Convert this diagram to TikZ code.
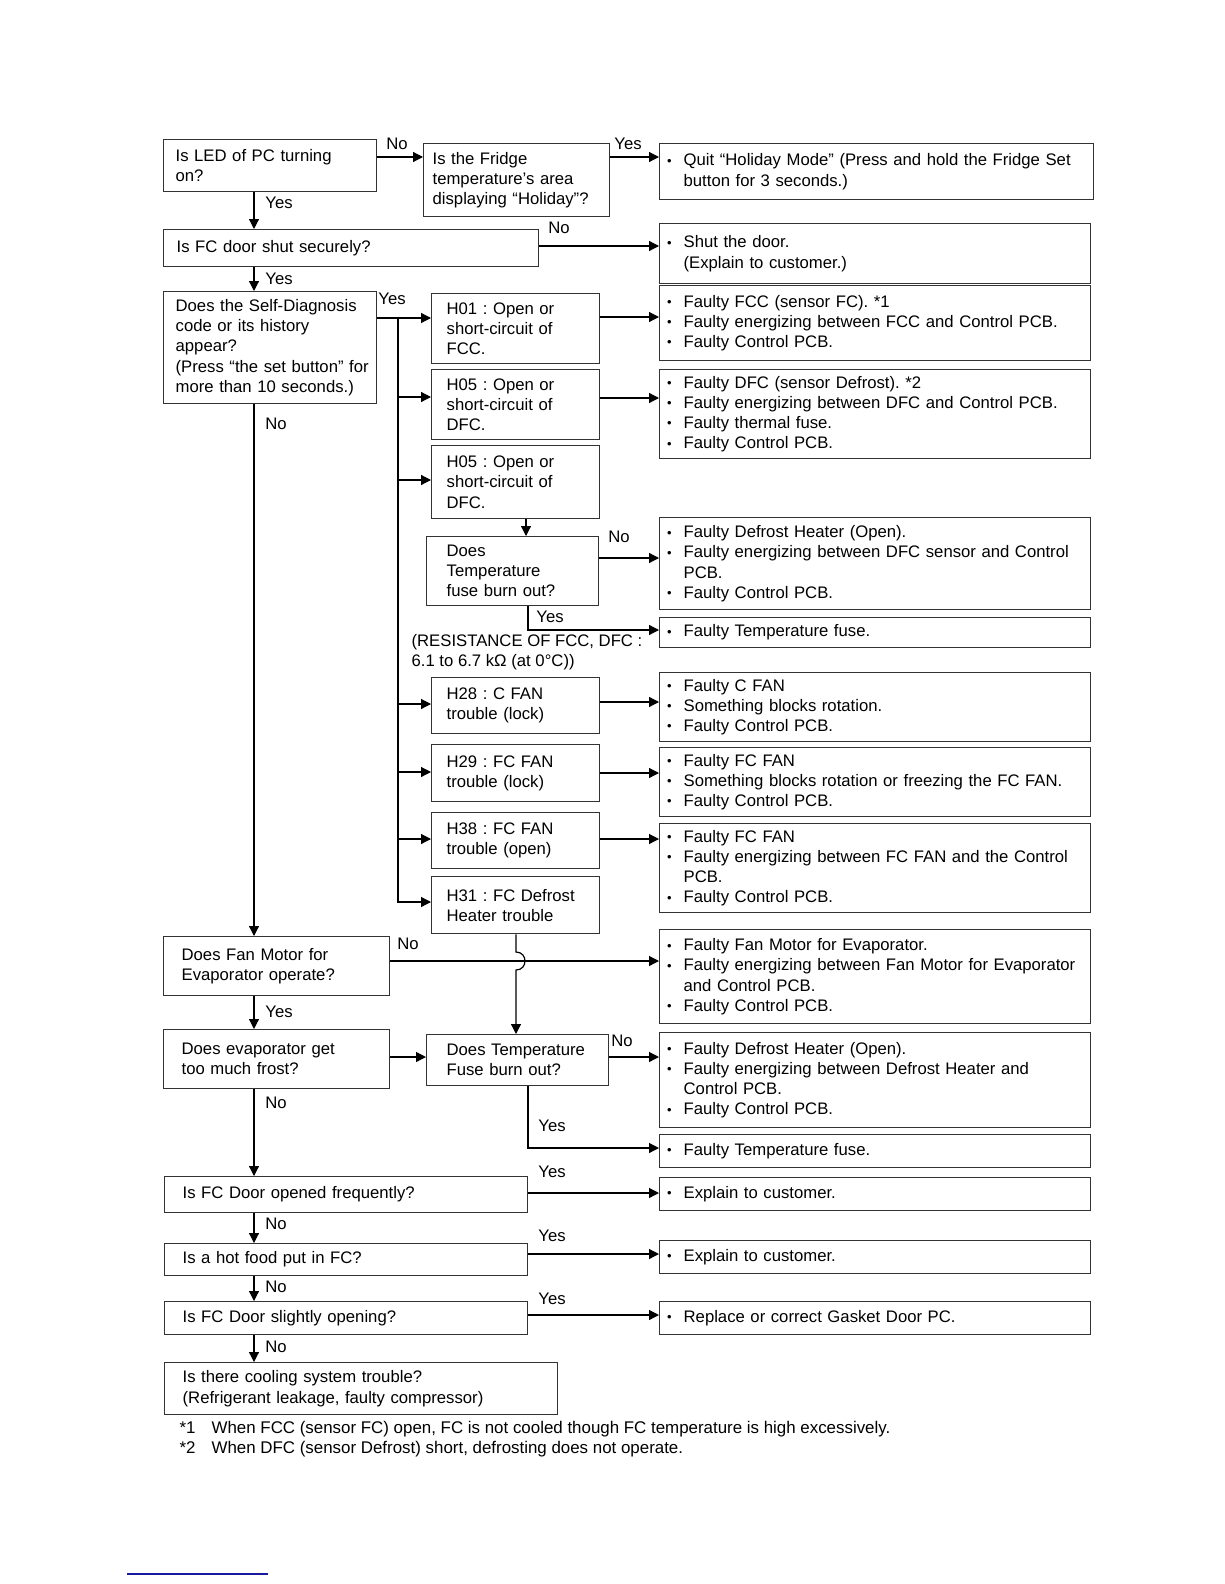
\documentclass[tikz,border=0pt]{standalone}
\usepackage{fontspec}
\setmainfont{Liberation Sans}
\usetikzlibrary{arrows.meta}
\definecolor{linkblue}{RGB}{25,25,160}
\frenchspacing
\newcommand{\bitem}{\makebox[17pt][l]{\hspace{0.5pt}\raisebox{0.6pt}{\fontsize{13}{13}\selectfont\textbullet}}}
\newcommand{\bcont}{\hspace*{17pt}}
\tikzset{
  every picture/.style={line width=1.2pt},
  box/.style={draw=black!80, line width=1.3pt, anchor=north west, inner ysep=0pt,
    execute at begin node={\raggedright\rightskip=-40pt plus 1fil\relax}},
  ans/.style={box, inner xsep=7pt, text width=417pt},
  hbox/.style={box, inner xsep=15pt, text width=138pt},
  arr/.style={-{Triangle[length=10pt,width=10pt]}},
  lbl/.style={inner sep=0pt}
}

\begin{document}
\begin{tikzpicture}[x=1pt, y=-1pt, font=\fontsize{16.7}{20.1}\selectfont]
    \useasboundingbox (0,0) rectangle (1224,1584);
    \coordinate (trunk) at (254,0);
    \coordinate (bus) at (398,0);

    % questions, left column
    \node[box, inner xsep=12pt, text width=189pt, minimum height=52pt] (led) at (163,139) {Is LED of PC turning\\on?};
    \node[box, inner xsep=9pt, text width=168pt, minimum height=73pt] (fridge) at (423,143) {Is the Fridge\\temperature’s area\\displaying “Holiday”?};
    \node[box, inner xsep=13pt, text width=349pt, minimum height=37pt] (door) at (163,229) {Is FC door shut securely?};
    \node[box, inner xsep=12pt, text width=189pt, minimum height=112pt] (diag) at (163,291) {Does the Self-Diagnosis\\code or its history\\appear?\\(Press “the set button” for\\more than 10 seconds.)};
    \node[box, inner xsep=18pt, text width=190pt, minimum height=59pt] (fanmotor) at (163,936) {Does Fan Motor for\\Evaporator operate?};
    \node[box, inner xsep=18pt, text width=190pt, minimum height=59pt] (evap) at (163,1029) {Does evaporator get\\too much frost?};
    \node[box, inner xsep=18pt, text width=327pt, minimum height=36pt] (often) at (164,1176) {Is FC Door opened frequently?};
    \node[box, inner xsep=18pt, text width=327pt, minimum height=32pt] (hotfood) at (164,1243) {Is a hot food put in FC?};
    \node[box, inner xsep=18pt, text width=327pt, minimum height=33pt] (slight) at (164,1301) {Is FC Door slightly opening?};
    \node[box, inner xsep=18pt, text width=357pt, minimum height=52pt] (cooling) at (164,1362) {Is there cooling system trouble?\\(Refrigerant leakage, faulty compressor)};

    % error codes
    \node[hbox, minimum height=70pt] (h01) at (431,293) {H01 : Open or\\short-circuit of\\FCC.};
    \node[hbox, minimum height=70pt] (h05a) at (431,369) {H05 : Open or\\short-circuit of\\DFC.};
    \node[hbox, minimum height=73pt] (h05b) at (431,445) {H05 : Open or\\short-circuit of\\DFC.};
    \node[box, inner xsep=20pt, text width=132pt, minimum height=69pt] (fuseA) at (426,536) {Does\\Temperature\\fuse burn out?};
    \node[hbox, minimum height=56pt] (h28) at (431,677) {H28 : C FAN\\trouble (lock)};
    \node[hbox, minimum height=57pt] (h29) at (431,744) {H29 : FC FAN\\trouble (lock)};
    \node[hbox, minimum height=56pt] (h38) at (431,812) {H38 : FC FAN\\trouble (open)};
    \node[hbox, minimum height=57pt] (h31) at (431,876) {H31 : FC Defrost\\Heater trouble};
    \node[box, inner xsep=20pt, text width=142pt, minimum height=51pt] (fuseB) at (426,1034) {Does Temperature\\Fuse burn out?};

    % remedies
    \node[ans, text width=420pt, minimum height=56pt] (quit) at (659,143) {\bitem Quit “Holiday Mode” (Press and hold the Fridge Set\\\bcont button for 3 seconds.)};
    \node[ans, minimum height=60pt] (shut) at (659,223) {\bitem Shut the door.\\\bcont (Explain to customer.)};
    \node[ans, minimum height=75pt] (fcc) at (659,285) {\bitem Faulty FCC (sensor FC). *1\\\bitem Faulty energizing between FCC and Control PCB.\\\bitem Faulty Control PCB.};
    \node[ans, minimum height=89pt] (dfc) at (659,369) {\bitem Faulty DFC (sensor Defrost). *2\\\bitem Faulty energizing between DFC and Control PCB.\\\bitem Faulty thermal fuse.\\\bitem Faulty Control PCB.};
    \node[ans, minimum height=92pt] (heaterA) at (659,517) {\bitem Faulty Defrost Heater (Open).\\\bitem Faulty energizing between DFC sensor and Control\\\bcont PCB.\\\bitem Faulty Control PCB.};
    \node[ans, minimum height=30pt] (tempA) at (659,617) {\bitem Faulty Temperature fuse.};
    \node[ans, minimum height=69pt] (cfan) at (659,672) {\bitem Faulty C FAN\\\bitem Something blocks rotation.\\\bitem Faulty Control PCB.};
    \node[ans, minimum height=69pt] (fcfanA) at (659,747) {\bitem Faulty FC FAN\\\bitem Something blocks rotation or freezing the FC FAN.\\\bitem Faulty Control PCB.};
    \node[ans, minimum height=89pt] (fcfanB) at (659,823) {\bitem Faulty FC FAN\\\bitem Faulty energizing between FC FAN and the Control\\\bcont PCB.\\\bitem Faulty Control PCB.};
    \node[ans, minimum height=94pt] (motorfix) at (659,929) {\bitem Faulty Fan Motor for Evaporator.\\\bitem Faulty energizing between Fan Motor for Evaporator\\\bcont and Control PCB.\\\bitem Faulty Control PCB.};
    \node[ans, minimum height=95pt] (heaterB) at (659,1032) {\bitem Faulty Defrost Heater (Open).\\\bitem Faulty energizing between Defrost Heater and\\\bcont Control PCB.\\\bitem Faulty Control PCB.};
    \node[ans, minimum height=33pt] (tempB) at (659,1134) {\bitem Faulty Temperature fuse.};
    \node[ans, minimum height=33pt] (explainA) at (659,1177) {\bitem Explain to customer.};
    \node[ans, minimum height=33pt] (explainB) at (659,1240) {\bitem Explain to customer.};
    \node[ans, minimum height=33pt] (gasket) at (659,1301) {\bitem Replace or correct Gasket Door PC.};

    % yes / no
    \node[lbl] (noA) at (397,144) {No};
    \node[lbl] (yesA) at (628,144) {Yes};
    \node[lbl] (yesB) at (279,203) {Yes};
    \node[lbl] (noB) at (559,228) {No};
    \node[lbl] (yesC) at (279,279) {Yes};
    \node[lbl] (yesD) at (392,299) {Yes};
    \node[lbl] (noC) at (276,424) {No};
    \node[lbl] (noD) at (619,537) {No};
    \node[lbl] (yesE) at (550,617) {Yes};
    \node[lbl] (noE) at (408,944) {No};
    \node[lbl] (yesF) at (279,1012) {Yes};
    \node[lbl] (noF) at (622,1041) {No};
    \node[lbl] (noG) at (276,1103) {No};
    \node[lbl] (yesG) at (552,1126) {Yes};
    \node[lbl] (yesH) at (552,1172) {Yes};
    \node[lbl] (noH) at (276,1224) {No};
    \node[lbl] (yesI) at (552,1236) {Yes};
    \node[lbl] (noI) at (276,1287) {No};
    \node[lbl] (yesJ) at (552,1299) {Yes};
    \node[lbl] (noJ) at (276,1347) {No};

    \node[lbl, anchor=west, align=left] (resist) at (411,652) {(RESISTANCE OF FCC, DFC :\\6.1 to 6.7 kΩ (at 0°C))};
    \node[lbl, anchor=west, font=\fontsize{16.9}{20.1}\selectfont] (noteA) at (179,1429) {\makebox[32pt][l]{*1}When FCC (sensor FC) open, FC is not cooled though FC temperature is high excessively.};
    \node[lbl, anchor=west, font=\fontsize{16.9}{20.1}\selectfont] (noteB) at (179,1449) {\makebox[32pt][l]{*2}When DFC (sensor Defrost) short, defrosting does not operate.};

    % connectors
    \foreach \src/\dst in {led/door, door/diag, diag/fanmotor, fanmotor/evap, evap/often, often/hotfood, hotfood/slight, slight/cooling}
        \draw[arr] (\src.south -| trunk) -- (\dst.north -| trunk);
    \foreach \src/\dst/\yy in {led/fridge/157, fridge/quit/157, door/shut/246, diag/h01/318, h01/fcc/317, h05a/dfc/398, fuseA/heaterA/558, h28/cfan/702, h29/fcfanA/773, h38/fcfanB/839, fanmotor/motorfix/961, evap/fuseB/1057, fuseB/heaterB/1057, often/explainA/1193, hotfood/explainB/1254, slight/gasket/1315}
        \draw[arr] (\src.east |- 0,\yy) -- (\dst.west |- 0,\yy);
    \draw[arr] (bus |- 0,318) |- (h31.west |- 0,902);
    \foreach \dst/\yy in {h05a/397, h05b/480, h28/704, h29/772, h38/839}
        \draw[arr] (bus |- 0,\yy) -- (\dst.west |- 0,\yy);
    \draw[arr] (h05b.south -| 526,0) -- (fuseA.north -| 526,0);
    \draw[arr] (fuseA.south -| 528,0) |- (tempA.west |- 0,630);
    \draw[arr] (h31.south -| 516,0) -- (516,952) .. controls (528,952) and (528,970) .. (516,970) -- (fuseB.north -| 516,0);
    \draw[arr] (fuseB.south -| 528,0) |- (tempB.west |- 0,1148);

    \draw[linkblue, line width=1.5pt] (127,1574) -- (268,1574);
\end{tikzpicture}
\end{document}
